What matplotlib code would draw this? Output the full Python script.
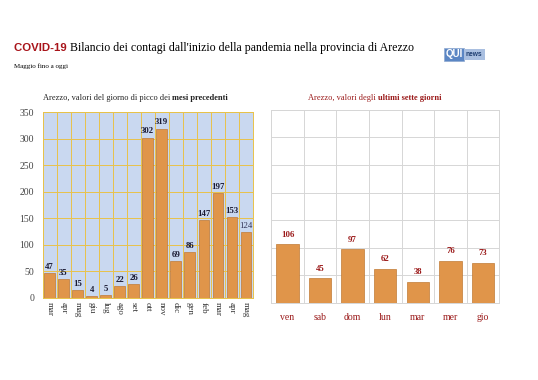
import matplotlib.pyplot as plt
from matplotlib.ticker import MultipleLocator, FixedLocator

# data
months = ["mar", "apr", "mag", "giu", "lug", "ago", "set", "ott", "nov",
          "dic", "gen", "feb", "mar", "apr", "mag"]
peak_values = [47, 35, 15, 4, 5, 22, 26, 302, 319, 69, 86, 147, 197, 153, 124]
days = ["ven", "sab", "dom", "lun", "mar", "mer", "gio"]
week_values = [106, 45, 97, 62, 38, 76, 73]

serif = "Liberation Serif"
bar_col = "#e0954a"
edge_col = "#c07a35"
dark_red = "#9b1a1a"

fig = plt.figure(figsize=(5.38, 3.8), dpi=100)
fig.patch.set_facecolor("white")


def text_run(x, y, parts, **kw):
    # place text pieces one after another (mixed weights/colors)
    r = fig.canvas.get_renderer()
    inv = fig.transFigure.inverted()
    for s, props in parts:
        t = fig.text(x, y, s, **{**kw, **props})
        bb = t.get_window_extent(renderer=r)
        x = inv.transform((bb.x1, bb.y0))[0]


# header
text_run(0.026, 0.866, [
    ("COVID-19 ", dict(family="Liberation Sans", weight="bold", color="#a8141a", size=8.2)),
    ("Bilancio dei contagi dall'inizio della pandemia nella provincia di Arezzo",
     dict(family=serif, color="black", size=8.6)),
], va="baseline")
fig.text(0.026, 0.822, "Maggio fino a oggi", family=serif, size=5, color="black")
fig.text(0.828, 0.857, "QUI", family="Liberation Sans", weight="bold", size=7,
         color="white", ha="left", va="center",
         bbox=dict(boxstyle="square,pad=0.15", fc="#5b86c4", ec="#8fa9d0", lw=0.5))
fig.text(0.866, 0.857, "news", family="Liberation Sans", weight="bold", size=4.8,
         color="#1d3d70", ha="left", va="center",
         bbox=dict(boxstyle="square,pad=0.3", fc="#a9bfe0", ec="none"))

# left panel: monthly peaks
ax1 = fig.add_axes([0.079, 0.216, 0.391, 0.489])
x1 = range(len(months))
ax1.bar(x1, peak_values, width=0.75, color=bar_col, edgecolor=edge_col, lw=0.5, zorder=3)
ax1.set_facecolor("#c9d8f0")
ax1.set_xlim(-0.5, len(months) - 0.5)
ax1.set_ylim(0, 350)
ax1.yaxis.set_major_locator(MultipleLocator(50))
ax1.xaxis.set_major_locator(FixedLocator(list(x1)))
ax1.xaxis.set_minor_locator(FixedLocator([i - 0.5 for i in range(len(months) + 1)]))
ax1.set_xticklabels(months, rotation=270, family=serif, size=6.5, color="#333333")
ax1.tick_params(axis="x", which="major", length=0, pad=3)
ax1.tick_params(axis="x", which="minor", length=0)
ax1.tick_params(axis="y", length=0, labelsize=7, labelcolor="#444444", pad=6)
for lab in ax1.get_yticklabels():
    lab.set_family(serif)
ax1.grid(axis="y", which="major", color="#e8c24a", lw=0.7, zorder=1)
ax1.grid(axis="x", which="minor", color="#e8c24a", lw=0.7, zorder=1)
for sp in ax1.spines.values():
    sp.set_color("#e8c24a")
    sp.set_linewidth(0.7)
for i, v in enumerate(peak_values):
    last = i == len(peak_values) - 1
    ax1.text(i, v + 4, str(v), ha="center", va="bottom", family=serif, size=6.3,
             weight="normal" if last else "bold",
             color="#333355" if last else "#1a1a33")
text_run(0.08, 0.737, [
    ("Arezzo, valori del giorno di picco dei ", dict(weight="normal")),
    ("mesi precedenti", dict(weight="bold")),
], family=serif, size=6.0, color="#222222", va="baseline")

# right panel: last seven days
ax2 = fig.add_axes([0.504, 0.203, 0.424, 0.508])
x2 = range(len(days))
ax2.bar(x2, week_values, width=0.69, color=bar_col, edgecolor=edge_col, lw=0.5, zorder=3)
ax2.set_xlim(-0.5, len(days) - 0.5)
ax2.set_ylim(0, 350)
ax2.yaxis.set_major_locator(MultipleLocator(50))
ax2.set_yticklabels([])
ax2.xaxis.set_major_locator(FixedLocator(list(x2)))
ax2.xaxis.set_minor_locator(FixedLocator([i - 0.5 for i in range(len(days) + 1)]))
ax2.set_xticklabels(days, family=serif, size=7, color=dark_red)
ax2.tick_params(axis="both", which="both", length=0)
ax2.tick_params(axis="x", pad=7)
ax2.grid(axis="y", which="major", color="#d6d6d6", lw=0.7, zorder=1)
ax2.grid(axis="x", which="minor", color="#d6d6d6", lw=0.7, zorder=1)
for sp in ax2.spines.values():
    sp.set_color("#d6d6d6")
    sp.set_linewidth(0.7)
for i, v in enumerate(week_values):
    ax2.text(i, v + 10, str(v), ha="center", va="bottom", family=serif, size=6.3,
             weight="bold", color=dark_red)
text_run(0.573, 0.737, [
    ("Arezzo, valori degli ", dict(weight="normal")),
    ("ultimi sette giorni", dict(weight="bold")),
], family=serif, size=6.0, color=dark_red, va="baseline")

fig.savefig("out.png", dpi=100)
